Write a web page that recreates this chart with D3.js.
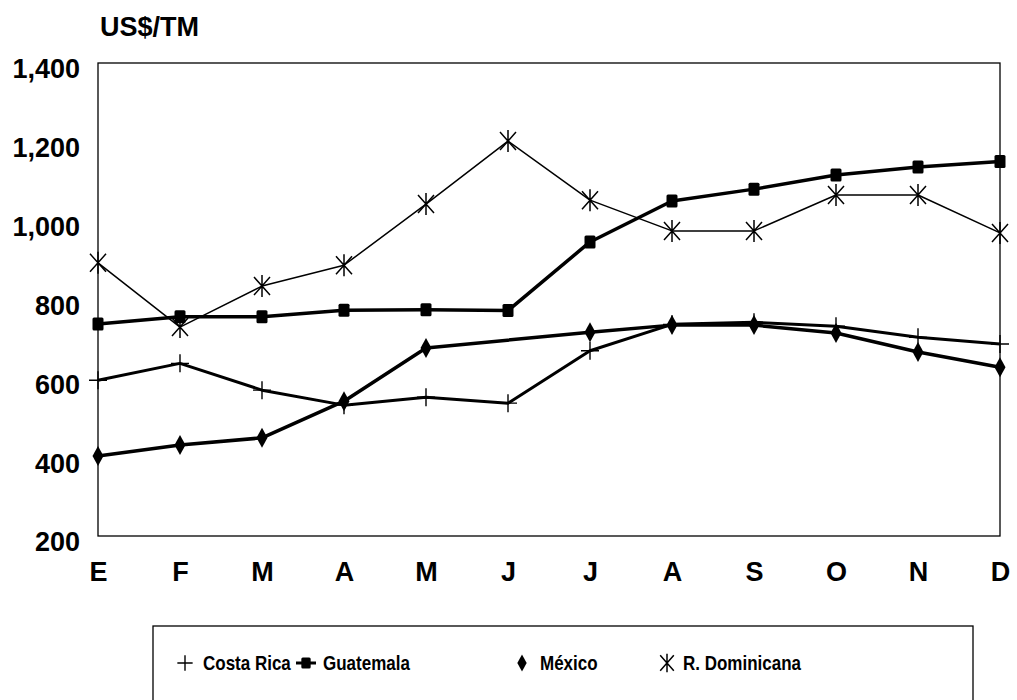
<!DOCTYPE html>
<html>
<head>
<meta charset="utf-8">
<script src="https://cdn.jsdelivr.net/npm/d3@7"></script>
<style>
  body { margin: 0; background: #fff; }
  svg { display: block; }
  text { font-family: "Liberation Sans", Arial, sans-serif; fill: #000; }
</style>
</head>
<body>
<svg id="chart" width="1017" height="700"></svg>
<script>
const months = ["E", "F", "M", "A", "M", "J", "J", "A", "S", "O", "N", "D"];
const yTicks = [200, 400, 600, 800, 1000, 1200, 1400];

const costaRica = [595, 638, 570, 532, 552, 537, 670, 737, 742, 732, 704, 687];
const guatemala = [738, 756, 756, 773, 774, 772, 946, 1050, 1080, 1116, 1136, 1150];
const mexico = [403, 431, 449, 542, 677, null, 717, 735, 735, 715, 667, 628];
const rDominicana = [893, 730, 834, 887, 1042, 1202, 1052, 974, 974, 1065, 1065, 969];

const series = [
  { name: "Costa Rica", values: costaRica, symbol: "plus", width: 3 },
  { name: "Guatemala", values: guatemala, symbol: "square", width: 3.5 },
  { name: "México", values: mexico, symbol: "diamond", width: 3.5 },
  { name: "R. Dominicana", values: rDominicana, symbol: "asterisk", width: 1.5 },
];

const margin = { left: 98, right: 17, top: 63, bottom: 164 };
const W = 1017, H = 700;
const svg = d3.select("#chart");

const x = d3.scalePoint()
  .domain(d3.range(months.length))
  .range([margin.left, W - margin.right]);
const y = d3.scaleLinear().domain([200, 1400]).range([H - margin.bottom, margin.top]);

// marco del área de trazado
svg.append("rect")
  .attr("x", x(0)).attr("y", y(1400))
  .attr("width", x(11) - x(0)).attr("height", y(200) - y(1400))
  .attr("fill", "none").attr("stroke", "#000").attr("stroke-width", 1.3);

// eje y
const yAxis = d3.axisLeft(y).tickValues(yTicks).tickSize(0).tickPadding(18)
  .tickFormat(d3.format(","));
svg.append("g")
  .attr("transform", `translate(${x(0)},0)`)
  .call(yAxis)
  .call(g => g.select(".domain").remove())
  .call(g => g.selectAll("text").attr("font-size", 27).attr("font-weight", "bold")
    .attr("dy", "0.55em"));

// eje x
const xAxis = d3.axisBottom(x).tickSize(0).tickFormat(i => months[i]);
svg.append("g")
  .attr("transform", `translate(0,${y(200)})`)
  .call(xAxis)
  .call(g => g.select(".domain").remove())
  .call(g => g.selectAll("text").attr("font-size", 27).attr("font-weight", "bold")
    .attr("y", 45).attr("dy", 0));

svg.append("text")
  .attr("x", 100).attr("y", 36)
  .attr("font-size", 27).attr("font-weight", "bold")
  .text("US$/TM");

// marcadores
function drawSymbol(g, type, scale = 1) {
  if (type === "plus") {
    g.append("path").attr("d", `M${-9 * scale},0H${9 * scale}M0,${-9 * scale}V${9 * scale}`)
      .attr("stroke", "#000").attr("stroke-width", 1.4).attr("fill", "none");
  } else if (type === "square") {
    g.append("rect").attr("x", -5.5 * scale).attr("y", -6.5 * scale)
      .attr("width", 11 * scale).attr("height", 13 * scale).attr("rx", 1.5).attr("fill", "#000");
  } else if (type === "diamond") {
    g.append("path")
      .attr("d", `M0,${-10 * scale}L${5.5 * scale},0L0,${10 * scale}L${-5.5 * scale},0Z`)
      .attr("fill", "#000");
  } else if (type === "asterisk") {
    const r = 11 * scale, dx = 8 * scale, dy = 9 * scale;
    g.append("path")
      .attr("d", `M0,${-r}V${r}M${-dx},${-dy}L${dx},${dy}M${dx},${-dy}L${-dx},${dy}`)
      .attr("stroke", "#000").attr("stroke-width", 1.5).attr("fill", "none");
  }
}

const line = d3.line()
  .x(d => x(d.i)).y(d => y(d.v));

series.forEach(s => {
  // México no tiene dato en junio: la línea une mayo con julio
  const pts = s.values.map((v, i) => ({ i, v })).filter(d => d.v != null);
  svg.append("path")
    .datum(pts)
    .attr("d", line)
    .attr("fill", "none").attr("stroke", "#000")
    .attr("stroke-width", s.width).attr("stroke-linejoin", "round");
  pts.forEach(d => {
    const g = svg.append("g").attr("transform", `translate(${x(d.i)},${y(d.v)})`);
    drawSymbol(g, s.symbol);
  });
});

// leyenda
svg.append("rect")
  .attr("x", 153).attr("y", 626).attr("width", 820).attr("height", 90)
  .attr("fill", "none").attr("stroke", "#000").attr("stroke-width", 1.3);

const legendPos = [
  { sx: 185, tx: 203 },
  { sx: 306, tx: 323 },
  { sx: 522, tx: 540 },
  { sx: 667, tx: 683 },
];
series.forEach((s, k) => {
  const p = legendPos[k];
  const g = svg.append("g").attr("transform", `translate(${p.sx},663)`);
  if (s.symbol === "square") {
    g.append("path").attr("d", "M-10,0H10").attr("stroke", "#000").attr("stroke-width", 3);
  }
  drawSymbol(g, s.symbol, 0.85);
  // texto estrecho, como en el original
  svg.append("text")
    .attr("transform", `translate(${p.tx},670) scale(0.85,1)`)
    .attr("font-size", 20).attr("font-weight", "bold")
    .text(s.name);
});
</script>
</body>
</html>
